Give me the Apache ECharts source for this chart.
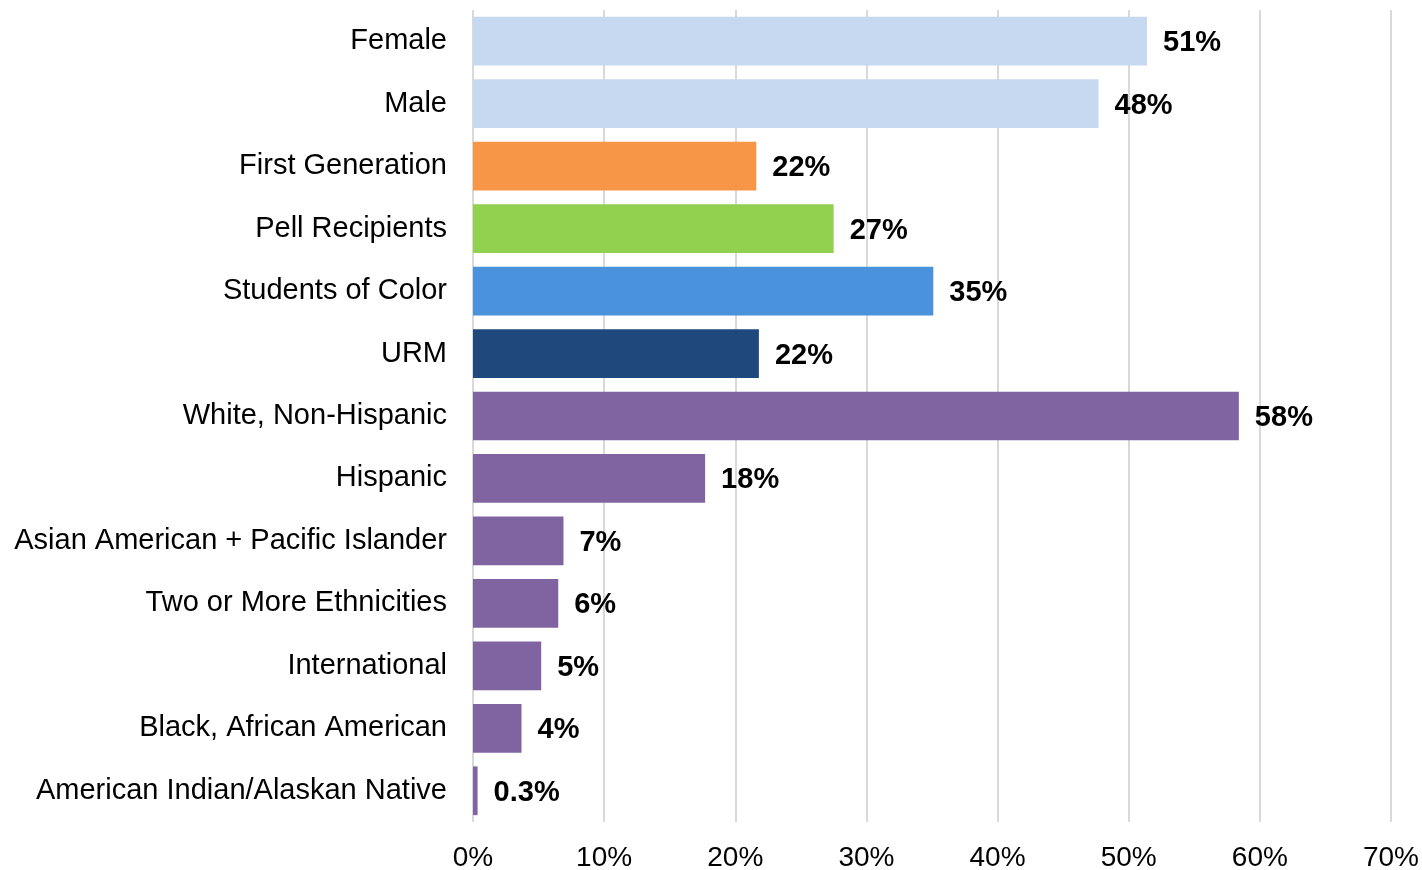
<!DOCTYPE html>
<html>
<head>
<meta charset="utf-8">
<script src="https://cdn.jsdelivr.net/npm/echarts@6/dist/echarts.min.js"></script>
<style>
  html, body { margin: 0; padding: 0; background: #fff; }
  #chart { width: 1422px; height: 870px; }
</style>
</head>
<body>
<div id="chart"></div>
<script>
// categories, top to bottom
const categories = [
  'Female', 'Male', 'First Generation', 'Pell Recipients', 'Students of Color', 'URM',
  'White, Non-Hispanic', 'Hispanic', 'Asian American + Pacific Islander',
  'Two or More Ethnicities', 'International', 'Black, African American',
  'American Indian/Alaskan Native'
]
// percent values
const values = [51.4, 47.7, 21.6, 27.5, 35.1, 21.8, 58.4, 17.7, 6.9, 6.5, 5.2, 3.7, 0.35]
// printed labels
const valueLabels = ['51%', '48%', '22%', '27%', '35%', '22%', '58%', '18%', '7%', '6%', '5%', '4%', '0.3%']
const barColors = [
  '#C6D9F1', '#C6D9F1', '#F79646', '#92D050', '#4A92DB', '#1F497D',
  '#8064A2', '#8064A2', '#8064A2', '#8064A2', '#8064A2', '#8064A2', '#8064A2'
]
const xTicks = [0, 10, 20, 30, 40, 50, 60, 70]

const font = 'Liberation Sans, Arial, sans-serif'
const chart = echarts.init(document.getElementById('chart'))

chart.setOption({
  animation: false,
  grid: { left: 473, right: 31, top: 10, bottom: 48, outerBoundsMode: 'none' },
  xAxis: {
    type: 'value',
    min: xTicks[0],
    max: xTicks[xTicks.length - 1],
    interval: 10,
    axisLine: { show: false },
    axisTick: { show: false },
    splitLine: { lineStyle: { color: '#D9D9D9', width: 2 } },
    axisLabel: {
      formatter: v => v + '%',
      color: '#000',
      fontFamily: font,
      fontSize: 28,
      margin: 22
    }
  },
  yAxis: {
    type: 'category',
    inverse: true,
    data: categories,
    axisLine: { show: false },
    axisTick: { show: false },
    axisLabel: {
      color: '#000',
      fontFamily: font,
      fontSize: 29,
      margin: 26
    }
  },
  series: [{
    type: 'bar',
    barCategoryGap: '22%',
    data: values.map((v, i) => ({ value: v, itemStyle: { color: barColors[i] } })),
    label: {
      show: true,
      position: 'right',
      distance: 16,
      offset: [0, 2],
      formatter: p => valueLabels[p.dataIndex],
      color: '#000',
      fontFamily: font,
      fontWeight: 'bold',
      fontSize: 29
    }
  }]
})
</script>
</body>
</html>
